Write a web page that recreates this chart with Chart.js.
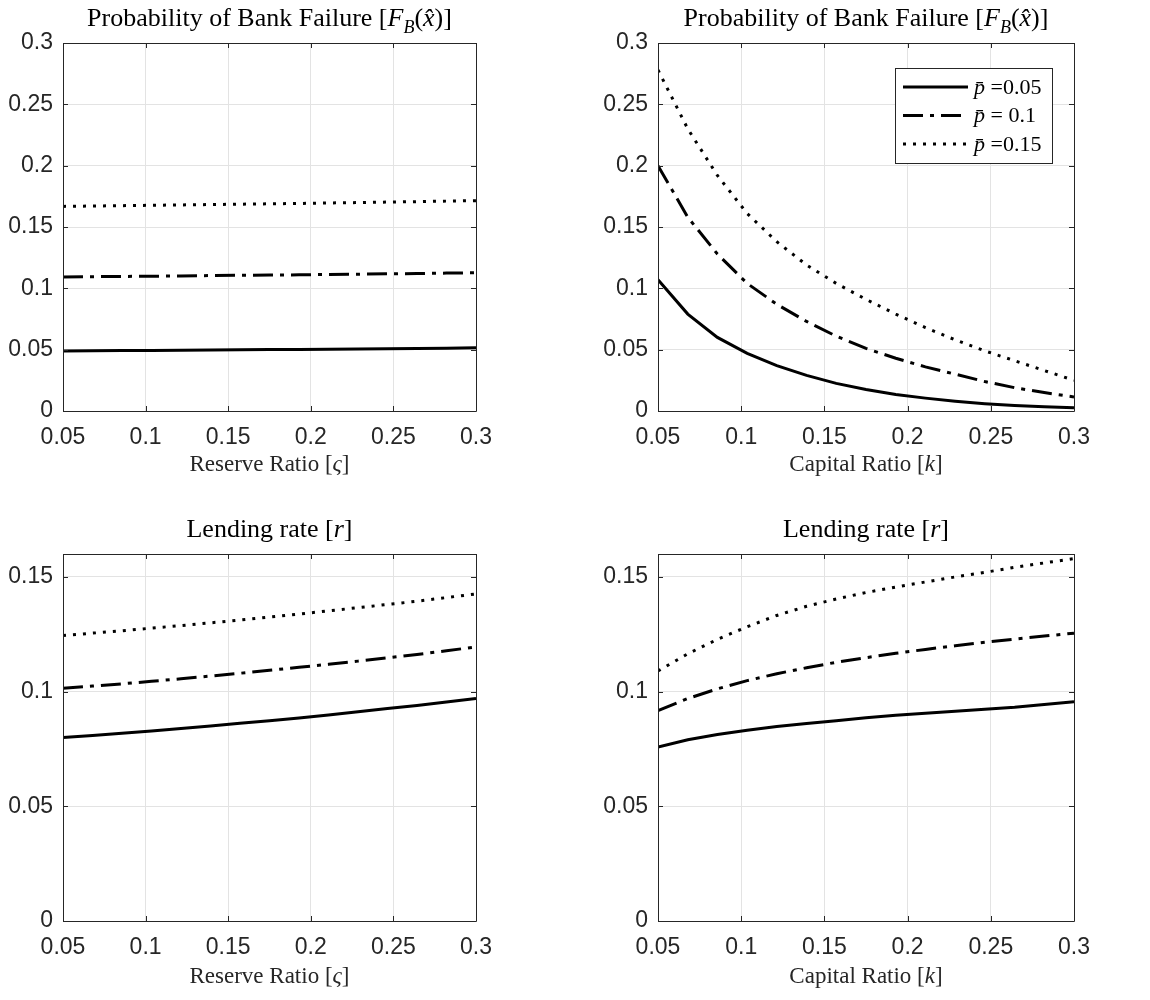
<!DOCTYPE html>
<html>
<head>
<meta charset="utf-8">
<script src="https://cdn.jsdelivr.net/npm/chart.js@4.4.0/dist/chart.umd.min.js"></script>
<style>
  body { margin: 0; background: #fff; width: 1150px; height: 1000px; position: relative; overflow: hidden; }
  canvas { position: absolute; }
</style>
</head>
<body>
<canvas id="failReserve" width="575" height="500" style="left:0;top:0"></canvas>
<canvas id="failCapital" width="575" height="500" style="left:575px;top:0"></canvas>
<canvas id="rateReserve" width="575" height="500" style="left:0;top:500px"></canvas>
<canvas id="rateCapital" width="575" height="500" style="left:575px;top:500px"></canvas>
<script>
// grid of ratios (x values) shared by every curve
const ratioGrid = [0.05, 0.0679, 0.0857, 0.1036, 0.1214, 0.1393, 0.1571, 0.175, 0.1929, 0.2107, 0.2286, 0.2464, 0.2643, 0.2821, 0.3];
const xTicks = [0.05, 0.1, 0.15, 0.2, 0.25, 0.3];
const failTicks = [0, 0.05, 0.1, 0.15, 0.2, 0.25, 0.3];
const rateTicks = [0, 0.05, 0.1, 0.15];
const seriesLabels = ["p\u0304 =0.05", "p\u0304 = 0.1", "p\u0304 =0.15"];

// probability of bank failure vs reserve ratio
const failReserveP05 = [0.0490, 0.0491, 0.0493, 0.0494, 0.0496, 0.0497, 0.0499, 0.0501, 0.0502, 0.0504, 0.0506, 0.0508, 0.0510, 0.0512, 0.0515];
const failReserveP10 = [0.1093, 0.1095, 0.1097, 0.1099, 0.1101, 0.1104, 0.1106, 0.1108, 0.1110, 0.1113, 0.1115, 0.1118, 0.1121, 0.1124, 0.1127];
const failReserveP15 = [0.1668, 0.1671, 0.1674, 0.1677, 0.1680, 0.1683, 0.1686, 0.1689, 0.1692, 0.1696, 0.1699, 0.1703, 0.1707, 0.1711, 0.1715];

// probability of bank failure vs capital ratio
const failCapitalP05 = [0.107, 0.079, 0.060, 0.047, 0.037, 0.029, 0.0225, 0.0175, 0.0135, 0.0105, 0.008, 0.006, 0.0045, 0.0035, 0.0027];
const failCapitalP10 = [0.200, 0.158, 0.128, 0.104, 0.087, 0.073, 0.061, 0.051, 0.043, 0.036, 0.030, 0.024, 0.019, 0.015, 0.0115];
const failCapitalP15 = [0.278, 0.230, 0.192, 0.161, 0.138, 0.119, 0.104, 0.091, 0.079, 0.068, 0.058, 0.049, 0.041, 0.033, 0.025];

// lending rate vs reserve ratio
const rateReserveP05 = [0.0800, 0.0809, 0.0818, 0.0828, 0.0839, 0.0850, 0.0862, 0.0873, 0.0885, 0.0898, 0.0912, 0.0926, 0.0940, 0.0955, 0.0970];
const rateReserveP10 = [0.1015, 0.1024, 0.1034, 0.1045, 0.1056, 0.1068, 0.1080, 0.1093, 0.1106, 0.1119, 0.1133, 0.1147, 0.1162, 0.1178, 0.1195];
const rateReserveP15 = [0.1245, 0.1255, 0.1265, 0.1277, 0.1288, 0.1300, 0.1312, 0.1325, 0.1338, 0.1352, 0.1366, 0.1380, 0.1394, 0.1410, 0.1426];

// lending rate vs capital ratio
const rateCapitalP05 = [0.0758, 0.0790, 0.0813, 0.0832, 0.0848, 0.0861, 0.0873, 0.0886, 0.0897, 0.0906, 0.0914, 0.0923, 0.0932, 0.0944, 0.0956];
const rateCapitalP10 = [0.0917, 0.0970, 0.1012, 0.1048, 0.1078, 0.1104, 0.1128, 0.1148, 0.1167, 0.1184, 0.1200, 0.1215, 0.1229, 0.1242, 0.1255];
const rateCapitalP15 = [0.1090, 0.1165, 0.1228, 0.1283, 0.1332, 0.1372, 0.1404, 0.1432, 0.1456, 0.1478, 0.1500, 0.1520, 0.1542, 0.1561, 0.1580];

const SERIF = '"Liberation Serif", "DejaVu Serif", serif';
const SANS = '"Liberation Sans", Arial, sans-serif';
const AXIS = "#262626";
const lineStyles = [[], [20, 7, 4, 7], [3, 7]];

function fmt(v) { return String(Number(v.toFixed(4))); }

// draw text made of plain / italic / subscript pieces, centred on cx
function drawRich(ctx, segs, cx, baseline, size) {
  let total = 0;
  const parts = segs.map(s => {
    const sz = s.sub ? Math.round(size * 0.7) : size;
    const font = (s.it ? "italic " : "") + sz + "px " + SERIF;
    ctx.font = font;
    const w = ctx.measureText(s.t).width;
    total += w;
    return { s, font, w };
  });
  let x = cx - total / 2;
  ctx.textAlign = "left";
  ctx.textBaseline = "alphabetic";
  parts.forEach(p => {
    ctx.font = p.font;
    ctx.fillText(p.s.t, x, baseline + (p.s.sub ? size * 0.25 : 0));
    x += p.w;
  });
}

const decorPlugin = {
  id: "decor",
  afterDraw(chart, args, opts) {
    const { ctx, chartArea: a, scales: { x, y } } = chart;
    ctx.save();
    // axes box with inward ticks
    ctx.strokeStyle = AXIS;
    ctx.lineWidth = 1;
    ctx.beginPath();
    x.ticks.forEach(t => {
      const px = Math.round(x.getPixelForValue(t.value)) + 0.5;
      ctx.moveTo(px, a.bottom); ctx.lineTo(px, a.bottom - 5);
      ctx.moveTo(px, a.top); ctx.lineTo(px, a.top + 5);
    });
    y.ticks.forEach(t => {
      const py = Math.round(y.getPixelForValue(t.value)) + 0.5;
      ctx.moveTo(a.left, py); ctx.lineTo(a.left + 5, py);
      ctx.moveTo(a.right, py); ctx.lineTo(a.right - 5, py);
    });
    ctx.rect(Math.round(a.left) + 0.5, Math.round(a.top) + 0.5, Math.round(a.right - a.left), Math.round(a.bottom - a.top));
    ctx.stroke();

    const cx = (a.left + a.right) / 2;
    ctx.fillStyle = "#000";
    drawRich(ctx, opts.title, cx, opts.titleY, 26);
    ctx.fillStyle = AXIS;
    drawRich(ctx, opts.xlabel, cx, opts.xlabelY, 23);

    if (opts.legend) {
      const w = 157, h = 95;
      const bx = a.right - 22 - w, by = a.top + 25;
      ctx.fillStyle = "#fff";
      ctx.fillRect(bx, by, w, h);
      ctx.strokeStyle = AXIS;
      ctx.strokeRect(bx + 0.5, by + 0.5, w, h);
      chart.data.datasets.forEach((ds, i) => {
        const ry = by + 19 + i * 28.5;
        ctx.strokeStyle = "#000";
        ctx.lineWidth = ds.borderWidth;
        ctx.setLineDash(ds.borderDash);
        ctx.beginPath();
        ctx.moveTo(bx + 8, ry); ctx.lineTo(bx + 73, ry);
        ctx.stroke();
        ctx.setLineDash([]);
        ctx.fillStyle = "#000";
        const lab = ds.label;
        ctx.font = "italic 22px " + SERIF;
        ctx.textAlign = "left";
        ctx.textBaseline = "middle";
        ctx.fillText(lab.slice(0, 2), bx + 79, ry + 1);
        const pw = ctx.measureText(lab.slice(0, 2)).width;
        ctx.font = "22px " + SERIF;
        ctx.fillText(lab.slice(2), bx + 79 + pw, ry + 1);
      });
    }
    ctx.restore();
  }
};

function makeChart(id, series, yMax, yTicks, cfg) {
  new Chart(document.getElementById(id), {
    type: "line",
    data: {
      datasets: series.map((vals, i) => ({
        label: seriesLabels[i],
        data: ratioGrid.map((r, j) => ({ x: r, y: vals[j] })),
        borderColor: "#000",
        borderWidth: 3,
        borderDash: lineStyles[i],
        borderCapStyle: "butt",
        pointRadius: 0,
        tension: 0,
        fill: false
      }))
    },
    options: {
      responsive: false,
      animation: false,
      layout: { padding: { left: 0, right: cfg.padRight, top: cfg.padTop, bottom: 0 } },
      plugins: {
        legend: { display: false },
        tooltip: { enabled: false },
        decor: cfg
      },
      scales: {
        x: {
          type: "linear",
          min: 0.05,
          max: 0.3,
          afterBuildTicks: s => { s.ticks = xTicks.map(v => ({ value: v })); },
          afterFit: s => { s.height = cfg.xHeight; },
          grid: { color: "#e3e3e3", drawTicks: false },
          border: { display: false },
          ticks: { padding: 13, color: AXIS, maxRotation: 0, font: { family: SANS, size: 23 }, callback: v => fmt(v) }
        },
        y: {
          type: "linear",
          min: 0,
          max: yMax,
          afterBuildTicks: s => { s.ticks = yTicks.map(v => ({ value: v })); },
          afterFit: s => { s.width = cfg.yWidth; },
          grid: { color: "#e3e3e3", drawTicks: false },
          border: { display: false },
          ticks: { padding: 10, color: AXIS, font: { family: SANS, size: 23 }, callback: v => fmt(v) }
        }
      }
    },
    plugins: [decorPlugin]
  });
}

const failTitle = [{ t: "Probability of Bank Failure [" }, { t: "F", it: true }, { t: "B", it: true, sub: true }, { t: "(" }, { t: "x\u0302", it: true }, { t: ")]" }];
const rateTitle = [{ t: "Lending rate [" }, { t: "r", it: true }, { t: "]" }];
const reserveLabel = [{ t: "Reserve Ratio [" }, { t: "\u03c2", it: true }, { t: "]" }];
const capitalLabel = [{ t: "Capital Ratio [" }, { t: "k", it: true }, { t: "]" }];

makeChart("failReserve", [failReserveP05, failReserveP10, failReserveP15], 0.3, failTicks,
  { title: failTitle, xlabel: reserveLabel, titleY: 26, xlabelY: 471, padTop: 43, padRight: 99, xHeight: 89, yWidth: 63 });
makeChart("failCapital", [failCapitalP05, failCapitalP10, failCapitalP15], 0.3, failTicks,
  { title: failTitle, xlabel: capitalLabel, titleY: 26, xlabelY: 471, padTop: 43, padRight: 76, xHeight: 89, yWidth: 83, legend: true });
makeChart("rateReserve", [rateReserveP05, rateReserveP10, rateReserveP15], 0.16, rateTicks,
  { title: rateTitle, xlabel: reserveLabel, titleY: 37, xlabelY: 483, padTop: 54, padRight: 99, xHeight: 79, yWidth: 63 });
makeChart("rateCapital", [rateCapitalP05, rateCapitalP10, rateCapitalP15], 0.16, rateTicks,
  { title: rateTitle, xlabel: capitalLabel, titleY: 37, xlabelY: 483, padTop: 54, padRight: 76, xHeight: 79, yWidth: 83 });
</script>
</body>
</html>
